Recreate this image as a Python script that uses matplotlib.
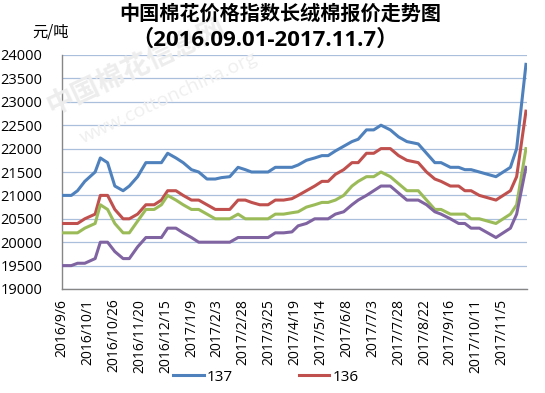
import matplotlib
matplotlib.use("Agg")
import matplotlib.pyplot as plt
from matplotlib.lines import Line2D

plt.rcParams['font.family'] = ['Open Sans', 'Noto Sans CJK SC', 'DejaVu Sans']

# day offsets from 2016-09-06 for each data point
days = [0, 9, 15, 22, 32, 37, 44, 51, 59, 65, 73, 81, 89, 96, 102, 110,
        117, 125, 132, 140, 148, 154, 162, 170, 177, 183, 191, 199, 206, 214,
        222, 228, 236, 244, 251, 257, 264, 272, 280, 286, 294, 301, 308, 317,
        325, 333, 344, 352, 360, 366, 375, 383, 389, 395, 403, 411, 419, 426,
        433, 439, 448]

s137 = [21000, 21000, 21100, 21300, 21500, 21800, 21700, 21200, 21100, 21200,
        21400, 21700, 21700, 21700, 21900, 21800, 21700, 21550, 21500, 21350,
        21350, 21380, 21400, 21600, 21550, 21500, 21500, 21500, 21600, 21600,
        21600, 21650, 21750, 21800, 21850, 21850, 21950, 22050, 22150, 22200,
        22400, 22400, 22500, 22400, 22250, 22150, 22100, 21900, 21700, 21700,
        21600, 21600, 21550, 21550, 21500, 21450, 21400, 21500, 21600, 22000,
        23800]
s136 = [20400, 20400, 20400, 20500, 20600, 21000, 21000, 20700, 20500, 20500,
        20600, 20800, 20800, 20900, 21100, 21100, 21000, 20900, 20900, 20800,
        20700, 20700, 20700, 20900, 20900, 20850, 20800, 20800, 20900, 20900,
        20930, 21000, 21100, 21200, 21300, 21300, 21450, 21550, 21700, 21700,
        21900, 21900, 22000, 22000, 21850, 21750, 21700, 21500, 21350, 21300,
        21200, 21200, 21100, 21100, 21000, 20950, 20900, 21000, 21100, 21400,
        22800]
s229 = [20200, 20200, 20200, 20300, 20400, 20800, 20700, 20400, 20200, 20200,
        20450, 20700, 20700, 20800, 21000, 20900, 20800, 20700, 20700, 20600,
        20500, 20500, 20500, 20600, 20500, 20500, 20500, 20500, 20600, 20600,
        20630, 20650, 20750, 20800, 20850, 20850, 20900, 21000, 21200, 21300,
        21400, 21400, 21500, 21400, 21250, 21100, 21100, 20900, 20700, 20700,
        20600, 20600, 20600, 20500, 20500, 20450, 20400, 20500, 20600, 20800,
        22000]
s329 = [19500, 19500, 19550, 19550, 19650, 20000, 20000, 19800, 19650, 19650,
        19900, 20100, 20100, 20100, 20300, 20300, 20200, 20100, 20000, 20000,
        20000, 20000, 20000, 20100, 20100, 20100, 20100, 20100, 20200, 20200,
        20220, 20350, 20400, 20500, 20500, 20500, 20600, 20650, 20800, 20900,
        21000, 21100, 21200, 21200, 21050, 20900, 20900, 20800, 20650, 20600,
        20500, 20400, 20400, 20300, 20300, 20200, 20100, 20200, 20300, 20600,
        21600]

tick_days = [0, 25, 50, 75, 100, 125, 150, 175, 200, 225, 250, 275, 300,
             325, 350, 375, 400, 425]
tick_labels = ['2016/9/6', '2016/10/1', '2016/10/26', '2016/11/20',
               '2016/12/15', '2017/1/9', '2017/2/3', '2017/2/28', '2017/3/25',
               '2017/4/19', '2017/5/14', '2017/6/8', '2017/7/3', '2017/7/28',
               '2017/8/22', '2017/9/16', '2017/10/11', '2017/11/5']

fig = plt.figure(figsize=(5.45, 3.93), dpi=100)
ax = fig.add_axes([62/545, 1-289/393, (527-62)/545, (289-55)/393])

# faint watermark
fig.text(0.25, 0.83, '中国棉花信息网', fontsize=20, color='#ededed',
         rotation=25, ha='center', va='center', fontweight='bold',
         family=['Noto Sans CJK SC'], zorder=0)
fig.text(0.31, 0.75, 'www.cottonchina.org', fontsize=14, color='#efefef',
         rotation=25, ha='center', va='center', zorder=0)

cols = ['#4F81BD', '#C0504D', '#9BBB59', '#8064A2']
for s, c in zip([s137, s136, s229, s329], cols):
    ax.plot(days, s, color=c, lw=2.2, solid_joinstyle='round', zorder=3)

ax.set_xlim(0, 449)
ax.set_ylim(19000, 24000)
ax.set_yticks(range(19000, 24001, 500))
ax.yaxis.grid(True, color='#a9bfdc', lw=0.9)
ax.set_axisbelow(True)
ax.set_xticks(tick_days)
ax.set_xticklabels(tick_labels, rotation=90, fontsize=10)
ax.tick_params(axis='both', length=0, labelsize=10.5, colors='black')
ax.tick_params(axis='x', pad=7, labelsize=10)
ax.tick_params(axis='y', pad=14)
for sp in ['top', 'right']:
    ax.spines[sp].set_visible(False)
for sp in ['left', 'bottom']:
    ax.spines[sp].set_color('#868686')
    ax.spines[sp].set_linewidth(1.0)
ax.patch.set_alpha(0)

fig.text(0.515, 0.968, '中国棉花价格指数长绒棉报价走势图', ha='center', va='center',
         fontsize=14.5, fontweight='bold', family=['Noto Sans CJK SC'])
fig.text(0.487, 0.898, '（2016.09.01-2017.11.7）', ha='center', va='center',
         fontsize=16, fontweight='bold', family=['Open Sans', 'Noto Sans CJK SC'])
fig.text(0.093, 0.918, '元/吨', ha='center', va='center', fontsize=11,
         family=['Noto Sans CJK SC'])

handles = [Line2D([], [], color=cols[0], lw=2.2), Line2D([], [], color=cols[1], lw=2.2)]
fig.legend(handles, ['137', '136'], loc='center', bbox_to_anchor=(0.488, 0.04),
           ncol=2, frameon=False, fontsize=11, handlelength=2.0,
           handletextpad=0.2, columnspacing=4.3)

fig.savefig('out.png', dpi=100)
